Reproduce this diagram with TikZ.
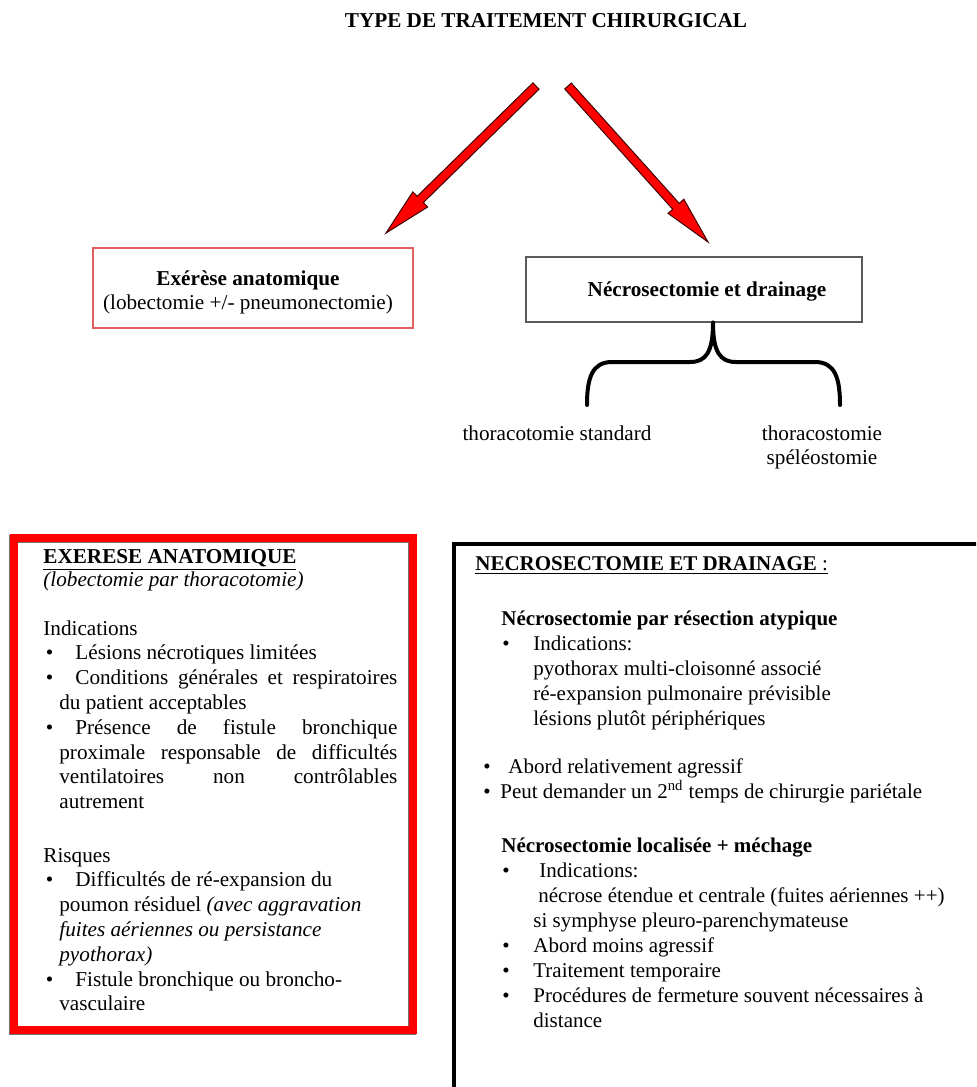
\documentclass[tikz,border=0pt]{standalone}
\usepackage{fontspec}
\setmainfont{Liberation Serif}
\usetikzlibrary{calc}

\definecolor{rougevif}{RGB}{255,0,0}
\definecolor{rougeclair}{RGB}{226,96,96}
\definecolor{grisbord}{RGB}{90,90,90}

\newcommand{\puce}{\makebox[16pt][l]{\hspace{1.2pt}\textbullet}}
\newcommand{\pucej}{\hangindent=8pt\hangafter=1\noindent\puce}
\newcommand{\suite}{\hspace*{8pt}}
\newcommand{\fleche}[2]{%
  \coordinate (#1-base) at ($(#2)!24pt!(#1)$);
  \filldraw[fleche] ($(#1)!2.2pt!90:(#2)$) -- ($(#1-base)!2.2pt!-90:(#1)$)
    -- ($(#1-base)!5.3pt!-90:(#1)$) -- (#2) -- ($(#1-base)!5.3pt!90:(#1)$)
    -- ($(#1-base)!2.2pt!90:(#1)$) -- ($(#1)!2.2pt!-90:(#2)$) -- cycle;}

\begin{document}
\begin{tikzpicture}[x=0.5pt, y=-0.5pt,
  texte/.style={inner sep=0pt, font=\fontsize{10.6pt}{12.4pt}\selectfont},
  texted/.style={inner sep=0pt, font=\fontsize{10.5pt}{12.55pt}\selectfont},
  fleche/.style={fill=rougevif, draw=black!75!red, line width=0.5pt},
  cadrefin/.style={draw=rougeclair, line width=0.6pt, minimum width=160pt, minimum height=40pt},
  cadregris/.style={draw=grisbord, line width=0.6pt, minimum width=168pt, minimum height=32.5pt},
  accolade/.style={line width=2pt, line cap=round},
  cadrerouge/.style={draw=rougevif, line width=4pt},
  cadrenoir/.style={draw=black, line width=2.2pt}]

\useasboundingbox (0,0) rectangle (976,1087);
\clip (0,0) rectangle (976,1087);

\node[texte, anchor=base] (titre) at (546,27) {\textbf{TYPE DE TRAITEMENT CHIRURGICAL}};

% les deux fleches
\coordinate (gA) at (536,86);
\coordinate (gB) at (386,233);
\coordinate (dA) at (568,86);
\coordinate (dB) at (708,242);
\fleche{gA}{gB}
\fleche{dA}{dB}

\node[cadrefin] (exerese) at (253,288) {};
\node[texte, anchor=base, text width=180pt, align=flush center] (exereseT) at (248,285)
  {\textbf{Exérèse anatomique}\\(lobectomie +/- pneumonectomie)};

\node[cadregris] (necro) at (694,289.5) {};
\node[texte, anchor=base] (necroT) at (707,296) {\textbf{Nécrosectomie et drainage}};

% accolade
\coordinate (acc) at ($(necro.south)+(19,0)$);
\coordinate (accG) at (587,405);
\coordinate (accD) at (840,405);
\draw[accolade] (acc) .. controls (713,352) and (706,362) .. (690,362) -- (612,362)
  .. controls (592,362) and (587,378) .. (accG);
\draw[accolade] (acc) .. controls (713,352) and (720,362) .. (736,362) -- (815,362)
  .. controls (835,362) and (840,378) .. (accD);

\node[texte, anchor=base] (standard) at (557,440) {thoracotomie standard};
\node[texte, anchor=base, text width=80pt, align=flush center] (speleo) at (822,440)
  {thoracostomie\\spéléostomie};

% cadre de gauche
\draw[line width=4pt, black!55] (13,539) rectangle (412,1031);
\draw[cadrerouge] (14,537.5) rectangle (413,1029.5);

\node[texte, anchor=base west] (exTitre) at (43,563) {\underline{\textbf{EXERESE ANATOMIQUE}}};
\node[texte, anchor=base west] (exSous) at (43,586) {\textit{(lobectomie par thoracotomie)}};

\node[texte, anchor=base west, text width=177pt, align=justify] (indic) at (43,635) {%
  \tolerance=9999\hbadness=10000\hyphenpenalty=10000
  \noindent Indications\par
  \pucej Lésions nécrotiques limitées\par
  \pucej Conditions générales et respiratoires\linebreak du patient acceptables\par
  \pucej Présence de fistule bronchique\linebreak proximale responsable de difficultés\linebreak
  ventilatoires non contrôlables\linebreak autrement\par};

\node[texte, anchor=base west, text width=177pt, align=flush left] (risques) at (43,862) {%
  \noindent Risques\\
  \puce Difficultés de ré-expansion du\\
  \suite poumon résiduel \textit{(avec aggravation}\\
  \suite\textit{fuites aériennes ou persistance}\\
  \suite\textit{pyothorax)}\\
  \puce Fistule bronchique ou broncho-\\
  \suite vasculaire};

% cadre de droite
\draw[cadrenoir] (454,544) rectangle (1010,1110);

\node[texted, anchor=base west] (neTitre) at (475,570)
  {\underline{\textbf{NECROSECTOMIE ET DRAINAGE} :}};

\node[texted, anchor=base west, text width=240pt, align=flush left] (atypique) at (501,625) {%
  \noindent\textbf{Nécrosectomie par résection atypique}\\
  \makebox[16pt][l]{\hspace{0.5pt}\textbullet}Indications:\\
  \hspace*{16pt}pyothorax multi-cloisonné associé\\
  \hspace*{16pt}ré-expansion pulmonaire prévisible\\
  \hspace*{16pt}lésions plutôt périphériques};

\node[texted, anchor=base west, text width=245pt, align=flush left] (abord) at (483,773) {%
  \noindent\makebox[12.5pt][l]{\textbullet}Abord relativement agressif\\
  \makebox[8.5pt][l]{\textbullet}Peut demander un 2\textsuperscript{nd} temps de chirurgie pariétale};

\node[texted, anchor=base west, text width=240pt, align=flush left] (localisee) at (501,852) {%
  \noindent\textbf{Nécrosectomie localisée + méchage}\\
  \makebox[19pt][l]{\hspace{0.5pt}\textbullet}Indications:\\
  \hspace*{18.5pt}nécrose étendue et centrale (fuites aériennes ++)\\
  \hspace*{16pt}si symphyse pleuro-parenchymateuse\\
  \makebox[16pt][l]{\hspace{0.5pt}\textbullet}Abord moins agressif\\
  \makebox[16pt][l]{\hspace{0.5pt}\textbullet}Traitement temporaire\\
  \makebox[16pt][l]{\hspace{0.5pt}\textbullet}Procédures de fermeture souvent nécessaires à\\
  \hspace*{16pt}distance};

\end{tikzpicture}
\end{document}
